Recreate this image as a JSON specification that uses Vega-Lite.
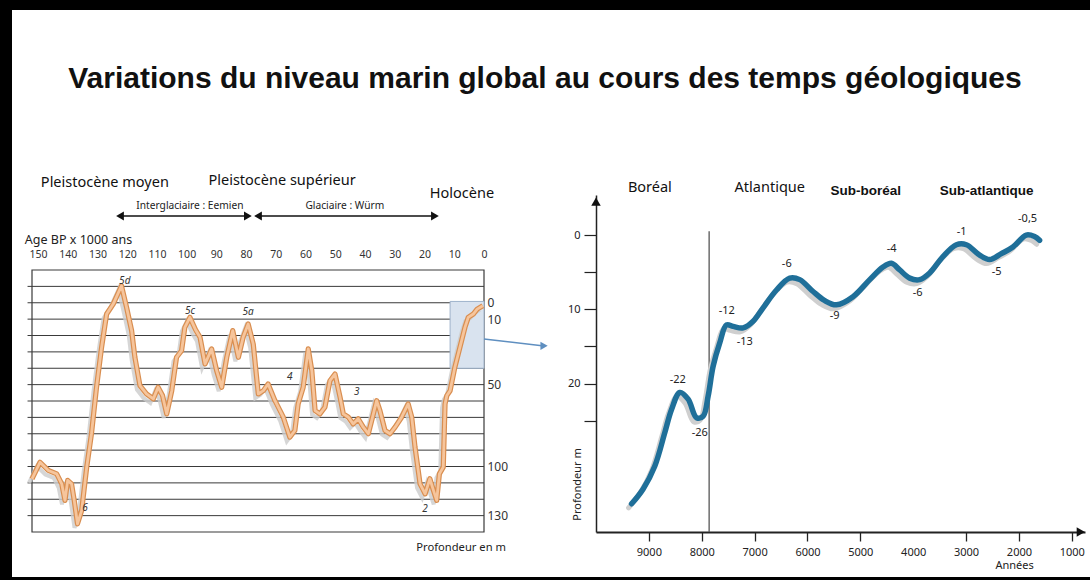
{
  "$schema": "https://vega.github.io/schema/vega-lite/v6.json",
  "width": 1090,
  "height": 580,
  "autosize": {"type": "fit", "contains": "padding"},
  "padding": {"left": 12, "top": 10, "right": 0, "bottom": 3},
  "background": "#000000",
  "config": {"view": {"fill": "#ffffff", "stroke": null}, "font": "Noto Sans"},
  "datasets": {
    "pleisto": [
      {"age": 152, "depth": 107.5}, {"age": 149.3, "depth": 97.4}, {"age": 146.5, "depth": 102.4}, {"age": 143.7, "depth": 104.5},
      {"age": 142, "depth": 110.6}, {"age": 140.9, "depth": 120.7}, {"age": 140, "depth": 108.5}, {"age": 138.7, "depth": 110.6},
      {"age": 137.8, "depth": 120.7}, {"age": 136.7, "depth": 135}, {"age": 135.3, "depth": 126.8}, {"age": 133.6, "depth": 100.4},
      {"age": 132, "depth": 80}, {"age": 130.3, "depth": 51.6}, {"age": 128.6, "depth": 27.2}, {"age": 126.9, "depth": 6.9},
      {"age": 124.7, "depth": 0.8}, {"age": 121.9, "depth": -10.4}, {"age": 120.2, "depth": 2.8}, {"age": 118.5, "depth": 17},
      {"age": 117.4, "depth": 33.3}, {"age": 115.7, "depth": 50.6}, {"age": 113.5, "depth": 55.7}, {"age": 111.2, "depth": 58.7},
      {"age": 109.6, "depth": 51.6}, {"age": 108.1, "depth": 56.7}, {"age": 106.7, "depth": 67.9}, {"age": 105, "depth": 53.7},
      {"age": 103.4, "depth": 33.3}, {"age": 101.7, "depth": 29.3}, {"age": 100.6, "depth": 15}, {"age": 98.9, "depth": 8.9},
      {"age": 97, "depth": 16.5}, {"age": 95.5, "depth": 21.1}, {"age": 93.8, "depth": 37.4}, {"age": 91.6, "depth": 28.2},
      {"age": 89.9, "depth": 41.5}, {"age": 88.2, "depth": 51.6}, {"age": 86.5, "depth": 33.3}, {"age": 84.5, "depth": 17},
      {"age": 82.6, "depth": 33.3}, {"age": 81, "depth": 21.1}, {"age": 79.3, "depth": 13}, {"age": 77.6, "depth": 25.2},
      {"age": 75.9, "depth": 55.7}, {"age": 74.2, "depth": 53.7}, {"age": 72.6, "depth": 49.6}, {"age": 70.3, "depth": 59.8},
      {"age": 68.6, "depth": 65.9}, {"age": 67.5, "depth": 69.9}, {"age": 65.3, "depth": 82.1}, {"age": 63.6, "depth": 78},
      {"age": 62.5, "depth": 61.8}, {"age": 60.8, "depth": 51.6}, {"age": 59.1, "depth": 28.2}, {"age": 57.9, "depth": 41.5},
      {"age": 56.8, "depth": 65.9}, {"age": 55.2, "depth": 67.9}, {"age": 53.5, "depth": 63.8}, {"age": 51.8, "depth": 47.6},
      {"age": 50.1, "depth": 43.5}, {"age": 48.4, "depth": 57.7}, {"age": 47.3, "depth": 67.9}, {"age": 45.6, "depth": 69.9},
      {"age": 44, "depth": 74}, {"age": 42.3, "depth": 70.9}, {"age": 40.6, "depth": 76}, {"age": 38.9, "depth": 80},
      {"age": 37.2, "depth": 67.9}, {"age": 36.1, "depth": 59.8}, {"age": 35, "depth": 65.9}, {"age": 33.3, "depth": 78},
      {"age": 31.6, "depth": 80}, {"age": 29.9, "depth": 76}, {"age": 27.7, "depth": 69.9}, {"age": 25.5, "depth": 61.8},
      {"age": 24.3, "depth": 69.9}, {"age": 23.2, "depth": 88.2}, {"age": 21.5, "depth": 110.6}, {"age": 19.8, "depth": 116.7},
      {"age": 18.2, "depth": 107.5}, {"age": 17, "depth": 114.6}, {"age": 15.9, "depth": 120.7}, {"age": 15, "depth": 104.5},
      {"age": 13.7, "depth": 100.4}, {"age": 13.1, "depth": 61.8}, {"age": 12.5, "depth": 56.7}, {"age": 11.4, "depth": 53.7},
      {"age": 9.8, "depth": 39.4}, {"age": 8.1, "depth": 27.2}, {"age": 6.4, "depth": 15}, {"age": 5.3, "depth": 8.9},
      {"age": 3.6, "depth": 6.9}, {"age": 2.3, "depth": 3.9}, {"age": 0.4, "depth": 1.8}
    ],
    "grid": [
      {"depth": -10}, {"depth": 0}, {"depth": 10}, {"depth": 20}, {"depth": 30}, {"depth": 40}, {"depth": 50}, {"depth": 60},
      {"depth": 70}, {"depth": 80}, {"depth": 90}, {"depth": 100}, {"depth": 110}, {"depth": 120}, {"depth": 130}
    ],
    "stages": [
      {"age": 120.8, "depth": -13.4, "label": "5d"}, {"age": 98.9, "depth": 4.9, "label": "5c"},
      {"age": 79.3, "depth": 5.9, "label": "5a"}, {"age": 65.3, "depth": 45.5, "label": "4"},
      {"age": 42.8, "depth": 54.7, "label": "3"}, {"age": 134.2, "depth": 125.2, "label": "6"},
      {"age": 19.8, "depth": 125.8, "label": "2"}
    ],
    "periodsLeft": [
      {"age": 127.5, "depth": -73.2, "label": "Pleistocène moyen"},
      {"age": 67.9, "depth": -74.4, "label": "Pleistocène supérieur"},
      {"age": 7.4, "depth": -66.5, "label": "Holocène"}
    ],
    "phasesLeft": [
      {"age": 98.9, "depth": -59.1, "label": "Interglaciaire : Eemien"},
      {"age": 46.8, "depth": -59.1, "label": "Glaciaire : Würm"}
    ],
    "arrowsLeft": [
      {"from": 122.4, "to": 79.4}, {"from": 76, "to": 16.5}
    ],
    "holocene": [
      {"yr": 9327, "depth": 36.2}, {"yr": 9108, "depth": 34.2}, {"yr": 8887, "depth": 31.1}, {"yr": 8698, "depth": 26.6},
      {"yr": 8571, "depth": 23.5}, {"yr": 8414, "depth": 21.2}, {"yr": 8257, "depth": 22.1}, {"yr": 8098, "depth": 24.6},
      {"yr": 7974, "depth": 24.4}, {"yr": 7879, "depth": 21.7}, {"yr": 7785, "depth": 17.7}, {"yr": 7658, "depth": 14.5},
      {"yr": 7531, "depth": 12.1}, {"yr": 7406, "depth": 12.3}, {"yr": 7217, "depth": 12.5}, {"yr": 7028, "depth": 11.6},
      {"yr": 6839, "depth": 9.8}, {"yr": 6586, "depth": 7.4}, {"yr": 6335, "depth": 5.8}, {"yr": 6146, "depth": 6.0},
      {"yr": 5894, "depth": 7.6}, {"yr": 5680, "depth": 8.8}, {"yr": 5452, "depth": 9.4}, {"yr": 5138, "depth": 8.3},
      {"yr": 4822, "depth": 6.0}, {"yr": 4571, "depth": 4.3}, {"yr": 4412, "depth": 3.8}, {"yr": 4255, "depth": 4.7},
      {"yr": 4066, "depth": 5.8}, {"yr": 3877, "depth": 6.0}, {"yr": 3688, "depth": 5.1}, {"yr": 3437, "depth": 2.9},
      {"yr": 3183, "depth": 1.3}, {"yr": 2994, "depth": 1.3}, {"yr": 2743, "depth": 2.7}, {"yr": 2554, "depth": 3.3},
      {"yr": 2333, "depth": 2.5}, {"yr": 2113, "depth": 1.6}, {"yr": 1861, "depth": 0}, {"yr": 1704, "depth": 0.2},
      {"yr": 1609, "depth": 0.7}
    ],
    "holoLabels": [
      {"yr": 8452, "depth": 19.5, "label": "-22"}, {"yr": 8036, "depth": 26.6, "label": "-26"},
      {"yr": 7526, "depth": 10.2, "label": "-12"}, {"yr": 7185, "depth": 14.4, "label": "-13"},
      {"yr": 6391, "depth": 3.9, "label": "-6"}, {"yr": 5484, "depth": 10.9, "label": "-9"},
      {"yr": 4406, "depth": 1.9, "label": "-4"}, {"yr": 3915, "depth": 7.8, "label": "-6"},
      {"yr": 3083, "depth": -0.4, "label": "-1"}, {"yr": 2422, "depth": 5.0, "label": "-5"},
      {"yr": 1836, "depth": -2.1, "label": "-0,5"}
    ],
    "periodsRight": [
      {"yr": 8981, "depth": -6.3, "label": "Boréal", "bold": false},
      {"yr": 6713, "depth": -6.3, "label": "Atlantique", "bold": false},
      {"yr": 4898, "depth": -6.0, "label": "Sub-boréal", "bold": true},
      {"yr": 2611, "depth": -6.0, "label": "Sub-atlantique", "bold": true}
    ]
  },
  "layer": [
    {
      "data": {"name": "grid"},
      "mark": {"type": "rule", "color": "#3a3a3a", "strokeWidth": 1},
      "encoding": {
        "y": {"field": "depth", "type": "quantitative", "scale": {"domain": [-20, 140], "range": [260, 522], "zero": false, "nice": false}, "axis": null},
        "x": {"datum": 153.5, "type": "quantitative", "scale": {"domain": [0, 152], "range": [472, 20], "zero": false, "nice": false}, "axis": null},
        "x2": {"datum": 0}
      }
    },
    {
      "data": {"values": [{}]},
      "mark": {"type": "rect", "fill": null, "stroke": "#3a3a3a", "strokeWidth": 1.2},
      "encoding": {
        "x": {"datum": 152, "type": "quantitative", "scale": {"domain": [0, 152], "range": [472, 20], "zero": false, "nice": false}, "axis": null},
        "x2": {"datum": 0},
        "y": {"datum": -20, "type": "quantitative", "scale": {"domain": [-20, 140], "range": [260, 522], "zero": false, "nice": false}, "axis": null},
        "y2": {"datum": 140}
      }
    },
    {
      "data": {"values": [{}]},
      "mark": {"type": "rect", "fill": "#d9e3ef", "stroke": "#9fb3cb", "strokeWidth": 1},
      "encoding": {
        "x": {"datum": 11.4, "type": "quantitative", "scale": {"domain": [0, 152], "range": [472, 20], "zero": false, "nice": false}, "axis": null},
        "x2": {"datum": 0},
        "y": {"datum": -0.8, "type": "quantitative", "scale": {"domain": [-20, 140], "range": [260, 522], "zero": false, "nice": false}, "axis": null},
        "y2": {"datum": 40}
      }
    },
    {
      "data": {"values": [{}]},
      "mark": {"type": "rule", "color": "#5f8fc0", "strokeWidth": 1.5},
      "encoding": {
        "x": {"datum": 0, "type": "quantitative", "scale": {"domain": [0, 152], "range": [472, 20], "zero": false, "nice": false}, "axis": null},
        "x2": {"datum": -19.5},
        "y": {"datum": 22.1, "type": "quantitative", "scale": {"domain": [-20, 140], "range": [260, 522], "zero": false, "nice": false}, "axis": null},
        "y2": {"datum": 26.2}
      }
    },
    {
      "data": {"values": [{}]},
      "mark": {"type": "point", "shape": "triangle-right", "filled": true, "color": "#5f8fc0", "size": 70, "opacity": 1},
      "encoding": {
        "x": {"datum": -20.2, "type": "quantitative", "scale": {"domain": [0, 152], "range": [472, 20], "zero": false, "nice": false}, "axis": null},
        "y": {"datum": 26.3, "type": "quantitative", "scale": {"domain": [-20, 140], "range": [260, 522], "zero": false, "nice": false}, "axis": null}
      }
    },
    {
      "data": {"name": "pleisto"},
      "mark": {"type": "line", "color": "#cccccc", "strokeWidth": 4, "xOffset": -3, "yOffset": 4, "opacity": 0.8},
      "encoding": {
        "x": {"field": "age", "type": "quantitative", "scale": {"domain": [0, 152], "range": [472, 20], "zero": false, "nice": false}, "axis": null},
        "y": {"field": "depth", "type": "quantitative", "scale": {"domain": [-20, 140], "range": [260, 522], "zero": false, "nice": false}, "axis": null}
      }
    },
    {
      "data": {"name": "pleisto"},
      "mark": {"type": "line", "color": "#d98e50", "strokeWidth": 5.2, "strokeJoin": "round"},
      "encoding": {
        "x": {"field": "age", "type": "quantitative", "scale": {"domain": [0, 152], "range": [472, 20], "zero": false, "nice": false}, "axis": null},
        "y": {"field": "depth", "type": "quantitative", "scale": {"domain": [-20, 140], "range": [260, 522], "zero": false, "nice": false}, "axis": null}
      }
    },
    {
      "data": {"name": "pleisto"},
      "mark": {"type": "line", "color": "#f6c59c", "strokeWidth": 2.8, "strokeJoin": "round"},
      "encoding": {
        "x": {"field": "age", "type": "quantitative", "scale": {"domain": [0, 152], "range": [472, 20], "zero": false, "nice": false},
          "axis": {"orient": "top", "offset": -249, "values": [150, 140, 130, 120, 110, 100, 90, 80, 70, 60, 50, 40, 30, 20, 10, 0],
            "ticks": false, "domain": false, "grid": false, "title": null, "labelFontSize": 10.5, "labelColor": "#333333",
            "labelPadding": 0, "labelFlush": false, "labelOverlap": false, "labelBound": false}},
        "y": {"field": "depth", "type": "quantitative", "scale": {"domain": [-20, 140], "range": [260, 522], "zero": false, "nice": false},
          "axis": {"orient": "right", "offset": -606, "values": [0, 10, 50, 100, 130], "ticks": false, "domain": false,
            "grid": false, "title": null, "labelFontSize": 12, "labelColor": "#333333", "labelPadding": 3, "labelOverlap": false, "labelBound": false, "labelFlush": false}}
      }
    },
    {
      "data": {"name": "stages"},
      "mark": {"type": "text", "fontSize": 10, "fontStyle": "italic", "color": "#333333"},
      "encoding": {
        "x": {"field": "age", "type": "quantitative", "scale": {"domain": [0, 152], "range": [472, 20], "zero": false, "nice": false}, "axis": null},
        "y": {"field": "depth", "type": "quantitative", "scale": {"domain": [-20, 140], "range": [260, 522], "zero": false, "nice": false}, "axis": null},
        "text": {"field": "label"}
      }
    },
    {
      "data": {"name": "periodsLeft"},
      "mark": {"type": "text", "fontSize": 14.5, "color": "#111111"},
      "encoding": {
        "x": {"field": "age", "type": "quantitative", "scale": {"domain": [0, 152], "range": [472, 20], "zero": false, "nice": false}, "axis": null},
        "y": {"field": "depth", "type": "quantitative", "scale": {"domain": [-20, 140], "range": [260, 522], "zero": false, "nice": false}, "axis": null},
        "text": {"field": "label"}
      }
    },
    {
      "data": {"name": "phasesLeft"},
      "mark": {"type": "text", "fontSize": 10.2, "color": "#222222"},
      "encoding": {
        "x": {"field": "age", "type": "quantitative", "scale": {"domain": [0, 152], "range": [472, 20], "zero": false, "nice": false}, "axis": null},
        "y": {"field": "depth", "type": "quantitative", "scale": {"domain": [-20, 140], "range": [260, 522], "zero": false, "nice": false}, "axis": null},
        "text": {"field": "label"}
      }
    },
    {
      "data": {"name": "arrowsLeft"},
      "mark": {"type": "rule", "color": "#111111", "strokeWidth": 1.5},
      "encoding": {
        "x": {"field": "from", "type": "quantitative", "scale": {"domain": [0, 152], "range": [472, 20], "zero": false, "nice": false}, "axis": null},
        "x2": {"field": "to"},
        "y": {"datum": -53, "type": "quantitative", "scale": {"domain": [-20, 140], "range": [260, 522], "zero": false, "nice": false}, "axis": null}
      }
    },
    {
      "data": {"name": "arrowsLeft"},
      "mark": {"type": "point", "shape": "triangle-left", "filled": true, "color": "#111111", "size": 80, "opacity": 1},
      "encoding": {
        "x": {"field": "from", "type": "quantitative", "scale": {"domain": [0, 152], "range": [472, 20], "zero": false, "nice": false}, "axis": null},
        "y": {"datum": -53, "type": "quantitative", "scale": {"domain": [-20, 140], "range": [260, 522], "zero": false, "nice": false}, "axis": null}
      }
    },
    {
      "data": {"name": "arrowsLeft"},
      "mark": {"type": "point", "shape": "triangle-right", "filled": true, "color": "#111111", "size": 80, "opacity": 1},
      "encoding": {
        "x": {"field": "to", "type": "quantitative", "scale": {"domain": [0, 152], "range": [472, 20], "zero": false, "nice": false}, "axis": null},
        "y": {"datum": -53, "type": "quantitative", "scale": {"domain": [-20, 140], "range": [260, 522], "zero": false, "nice": false}, "axis": null}
      }
    },
    {
      "data": {"values": [{"label": "Age BP x 1000 ans"}]},
      "mark": {"type": "text", "fontSize": 12.5, "color": "#222222", "align": "left"},
      "encoding": {
        "x": {"datum": 154.4, "type": "quantitative", "scale": {"domain": [0, 152], "range": [472, 20], "zero": false, "nice": false}, "axis": null},
        "y": {"datum": -38.5, "type": "quantitative", "scale": {"domain": [-20, 140], "range": [260, 522], "zero": false, "nice": false}, "axis": null},
        "text": {"field": "label"}
      }
    },
    {
      "data": {"values": [{"label": "Profondeur en m"}]},
      "mark": {"type": "text", "fontSize": 11.2, "color": "#222222"},
      "encoding": {
        "x": {"datum": 7.7, "type": "quantitative", "scale": {"domain": [0, 152], "range": [472, 20], "zero": false, "nice": false}, "axis": null},
        "y": {"datum": 150, "type": "quantitative", "scale": {"domain": [-20, 140], "range": [260, 522], "zero": false, "nice": false}, "axis": null},
        "text": {"field": "label"}
      }
    },
    {
      "data": {"values": [{"label": "Variations du niveau marin global au cours des temps géologiques"}]},
      "mark": {"type": "text", "fontSize": 30, "fontWeight": "bold", "font": "Liberation Sans", "color": "#111111"},
      "encoding": {
        "x": {"datum": -20.5, "type": "quantitative", "scale": {"domain": [0, 152], "range": [472, 20], "zero": false, "nice": false}, "axis": null},
        "y": {"datum": -136.6, "type": "quantitative", "scale": {"domain": [-20, 140], "range": [260, 522], "zero": false, "nice": false}, "axis": null},
        "text": {"field": "label"}
      }
    },
    {
      "data": {"values": [{}]},
      "mark": {"type": "rule", "color": "#555555", "strokeWidth": 1.3},
      "encoding": {
        "x": {"datum": 7860, "type": "quantitative", "scale": {"domain": [750, 10000], "range": [1073, 584], "zero": false, "nice": false}, "axis": null},
        "y": {"datum": -0.5, "type": "quantitative", "scale": {"domain": [-5.4, 40], "range": [185, 522], "zero": false, "nice": false}, "axis": null},
        "y2": {"datum": 40}
      }
    },
    {
      "data": {"name": "holocene"},
      "mark": {"type": "line", "color": "#cfcfcf", "strokeWidth": 5, "interpolate": "catmull-rom", "xOffset": -3, "yOffset": 4, "strokeCap": "round"},
      "encoding": {
        "x": {"field": "yr", "type": "quantitative", "scale": {"domain": [750, 10000], "range": [1073, 584], "zero": false, "nice": false}, "axis": null},
        "y": {"field": "depth", "type": "quantitative", "scale": {"domain": [-5.4, 40], "range": [185, 522], "zero": false, "nice": false}, "axis": null}
      }
    },
    {
      "data": {"name": "holocene"},
      "mark": {"type": "line", "color": "#1f6f99", "strokeWidth": 5.5, "interpolate": "catmull-rom", "strokeCap": "round"},
      "encoding": {
        "x": {"field": "yr", "type": "quantitative", "scale": {"domain": [750, 10000], "range": [1073, 584], "zero": false, "nice": false},
          "axis": {"orient": "bottom", "offset": -45, "values": [9000, 8000, 7000, 6000, 5000, 4000, 3000, 2000, 1000], "format": "d",
            "domainColor": "#222222", "domainWidth": 2, "tickColor": "#222222", "tickWidth": 1.3, "tickSize": 9,
            "tickOpacity": {"condition": {"test": "datum.value === 4000", "value": 0}, "value": 1},
            "labelFontSize": 11, "labelColor": "#222222", "labelPadding": 5, "grid": false, "title": null,
            "labelFlush": false, "labelOverlap": false, "labelBound": false}},
        "y": {"field": "depth", "type": "quantitative", "scale": {"domain": [-5.4, 40], "range": [185, 522], "zero": false, "nice": false},
          "axis": {"orient": "left", "offset": -584, "values": [0, 5, 10, 15, 20, 25],
            "labelExpr": "datum.value % 10 === 0 ? datum.label : ''",
            "domainColor": "#222222", "domainWidth": 1.5, "tickColor": "#222222", "tickWidth": 1.2, "tickSize": 12,
            "labelFontSize": 11, "labelColor": "#222222", "labelPadding": 4, "grid": false, "title": null,
            "labelFlush": false, "labelOverlap": false, "labelBound": false}}
      }
    },
    {
      "data": {"name": "holoLabels"},
      "mark": {"type": "text", "fontSize": 11, "color": "#222222"},
      "encoding": {
        "x": {"field": "yr", "type": "quantitative", "scale": {"domain": [750, 10000], "range": [1073, 584], "zero": false, "nice": false}, "axis": null},
        "y": {"field": "depth", "type": "quantitative", "scale": {"domain": [-5.4, 40], "range": [185, 522], "zero": false, "nice": false}, "axis": null},
        "text": {"field": "label"}
      }
    },
    {
      "data": {"name": "periodsRight"},
      "transform": [{"filter": "!datum.bold"}],
      "mark": {"type": "text", "fontSize": 14.5, "color": "#111111"},
      "encoding": {
        "x": {"field": "yr", "type": "quantitative", "scale": {"domain": [750, 10000], "range": [1073, 584], "zero": false, "nice": false}, "axis": null},
        "y": {"field": "depth", "type": "quantitative", "scale": {"domain": [-5.4, 40], "range": [185, 522], "zero": false, "nice": false}, "axis": null},
        "text": {"field": "label"}
      }
    },
    {
      "data": {"name": "periodsRight"},
      "transform": [{"filter": "datum.bold"}],
      "mark": {"type": "text", "fontSize": 13.5, "fontWeight": "bold", "font": "Liberation Sans", "color": "#111111"},
      "encoding": {
        "x": {"field": "yr", "type": "quantitative", "scale": {"domain": [750, 10000], "range": [1073, 584], "zero": false, "nice": false}, "axis": null},
        "y": {"field": "depth", "type": "quantitative", "scale": {"domain": [-5.4, 40], "range": [185, 522], "zero": false, "nice": false}, "axis": null},
        "text": {"field": "label"}
      }
    },
    {
      "data": {"values": [{"label": "Profondeur m"}]},
      "mark": {"type": "text", "fontSize": 11, "color": "#222222", "angle": 270},
      "encoding": {
        "x": {"datum": 10342, "type": "quantitative", "scale": {"domain": [750, 10000], "range": [1073, 584], "zero": false, "nice": false}, "axis": null},
        "y": {"datum": 33.6, "type": "quantitative", "scale": {"domain": [-5.4, 40], "range": [185, 522], "zero": false, "nice": false}, "axis": null},
        "text": {"field": "label"}
      }
    },
    {
      "data": {"values": [{"label": "Années"}]},
      "mark": {"type": "text", "fontSize": 11, "color": "#222222"},
      "encoding": {
        "x": {"datum": 2081, "type": "quantitative", "scale": {"domain": [750, 10000], "range": [1073, 584], "zero": false, "nice": false}, "axis": null},
        "y": {"datum": 44.6, "type": "quantitative", "scale": {"domain": [-5.4, 40], "range": [185, 522], "zero": false, "nice": false}, "axis": null},
        "text": {"field": "label"}
      }
    },
    {
      "data": {"values": [{}]},
      "mark": {"type": "point", "shape": "triangle-up", "filled": true, "color": "#111111", "size": 90, "opacity": 1},
      "encoding": {
        "x": {"datum": 10000, "type": "quantitative", "scale": {"domain": [750, 10000], "range": [1073, 584], "zero": false, "nice": false}, "axis": null},
        "y": {"datum": -4.5, "type": "quantitative", "scale": {"domain": [-5.4, 40], "range": [185, 522], "zero": false, "nice": false}, "axis": null}
      }
    },
    {
      "data": {"values": [{}]},
      "mark": {"type": "point", "shape": "triangle-right", "filled": true, "color": "#111111", "size": 90, "opacity": 1},
      "encoding": {
        "x": {"datum": 830, "type": "quantitative", "scale": {"domain": [750, 10000], "range": [1073, 584], "zero": false, "nice": false}, "axis": null},
        "y": {"datum": 40, "type": "quantitative", "scale": {"domain": [-5.4, 40], "range": [185, 522], "zero": false, "nice": false}, "axis": null}
      }
    }
  ],
  "resolve": {"scale": {"x": "independent", "y": "independent"}, "axis": {"x": "independent", "y": "independent"}}
}
